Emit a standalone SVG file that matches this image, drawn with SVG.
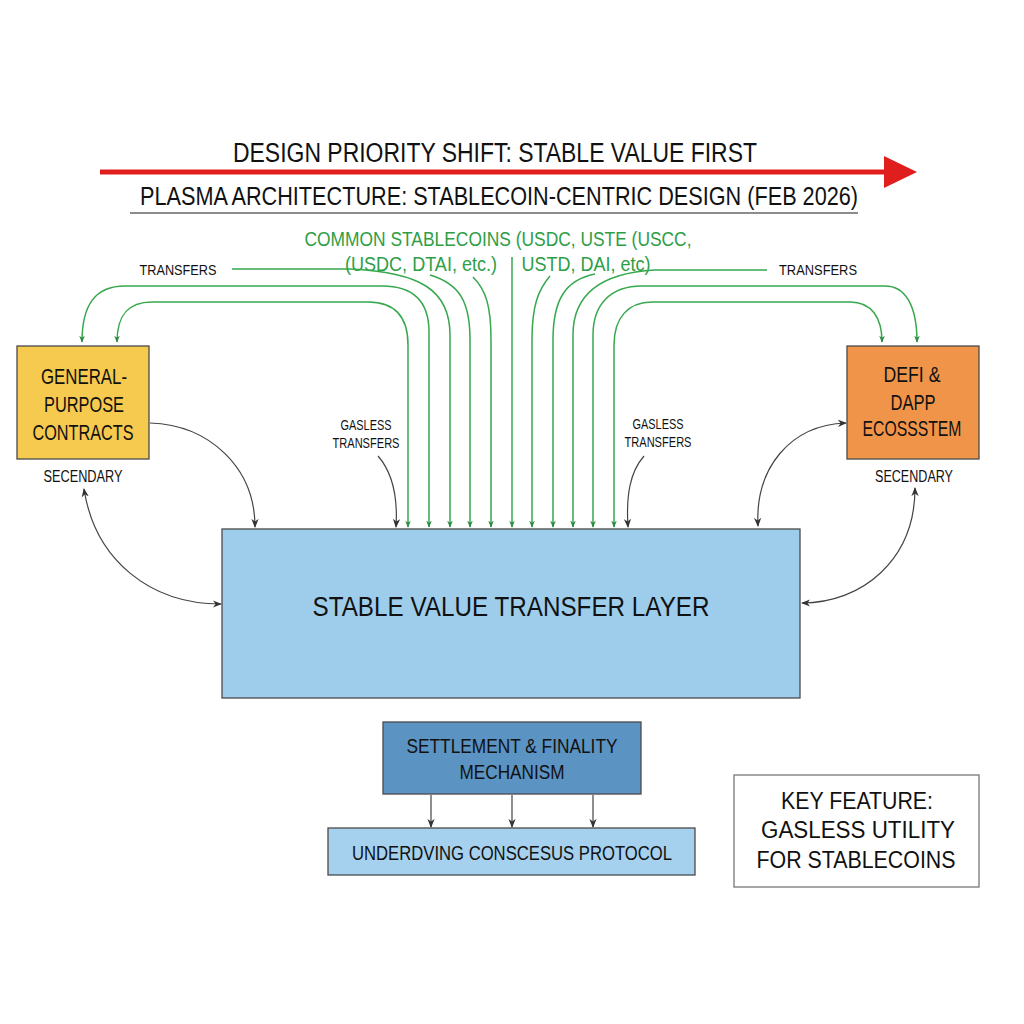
<svg xmlns="http://www.w3.org/2000/svg" width="1024" height="1024" viewBox="0 0 1024 1024">
<style>
text{font-family:"Liberation Sans","DejaVu Sans",sans-serif;fill:#111;text-anchor:middle}
.g{fill:#2E9E46}
.node{stroke:#4a4a4a;stroke-width:1.3}
.gl{fill:none;stroke:#36A84E;stroke-width:1.5}
.bl{fill:none;stroke:#444;stroke-width:1.2}
</style>
<defs>
<marker id="ag" viewBox="0 0 10 10" refX="9" refY="5" markerWidth="7" markerHeight="7" markerUnits="userSpaceOnUse" orient="auto-start-reverse"><path d="M0,1 L10,5 L0,9 L3,5 Z" fill="#2A8A40"/></marker>
<marker id="ab" viewBox="0 0 10 10" refX="9" refY="5" markerWidth="9" markerHeight="9" markerUnits="userSpaceOnUse" orient="auto-start-reverse"><path d="M0,1 L10,5 L0,9 L3,5 Z" fill="#333"/></marker>
</defs>
<rect width="1024" height="1024" fill="#fff"/>

<g id="header">
<line x1="100" y1="172" x2="888" y2="172" stroke="#E01E1E" stroke-width="5"/>
<polygon points="884,156 917,172 884,188" fill="#E01E1E"/>
<text x="495" y="162" font-size="27" textLength="524" lengthAdjust="spacingAndGlyphs">DESIGN PRIORITY SHIFT: STABLE VALUE FIRST</text>
<text x="499" y="205" font-size="26" textLength="718" lengthAdjust="spacingAndGlyphs">PLASMA ARCHITECTURE: STABLECOIN-CENTRIC DESIGN (FEB 2026)</text>
<line x1="130" y1="213" x2="858" y2="213" stroke="#666" stroke-width="1.5"/>
</g>

<g id="stablecoins-label">
<text class="g" x="498" y="246" font-size="21" textLength="387" lengthAdjust="spacingAndGlyphs">COMMON STABLECOINS (USDC, USTE (USCC,</text>
<text class="g" x="421" y="271" font-size="21" textLength="152" lengthAdjust="spacingAndGlyphs">(USDC, DTAI, etc.)</text>
<text class="g" x="586" y="271" font-size="21" textLength="129" lengthAdjust="spacingAndGlyphs">USTD, DAI, etc)</text>
<text x="178" y="275" font-size="14" textLength="77" lengthAdjust="spacingAndGlyphs">TRANSFERS</text>
<text x="818" y="275" font-size="14" textLength="78" lengthAdjust="spacingAndGlyphs">TRANSFERS</text>
</g>

<g id="connectors">
<path class="gl" marker-start="url(#ag)" marker-end="url(#ag)" d="M82,342 C82,305 95,286 125,286 H382 C414,286 429,302 429,332 V527"/>
<path class="gl" marker-start="url(#ag)" marker-end="url(#ag)" d="M117,342 C117,315 128,302 152,302 H368 C396,302 408,318 408,345 V527"/>
<path class="gl" marker-end="url(#ag)" d="M232,269 H350 C420,272 450,290 450,335 V527"/>
<path class="gl" marker-end="url(#ag)" d="M430,275 C460,284 470,302 470,340 V527"/>
<path class="gl" marker-end="url(#ag)" d="M473,277 C486,290 491,306 491,340 V527"/>
<path class="gl" marker-end="url(#ag)" d="M512,257 V527"/>
<path class="gl" marker-end="url(#ag)" d="M550,276 C538,290 532,306 532,340 V527"/>
<path class="gl" marker-end="url(#ag)" d="M595,274 C565,280 553,300 553,340 V527"/>
<path class="gl" marker-end="url(#ag)" d="M767,270 H655 C600,273 573,295 573,335 V527"/>
<path class="gl" marker-start="url(#ag)" marker-end="url(#ag)" d="M917,342 C917,305 905,286 885,286 H642 C610,286 593,305 593,335 V527"/>
<path class="gl" marker-start="url(#ag)" marker-end="url(#ag)" d="M882,342 C882,318 872,302 850,302 H652 C628,302 614,318 614,345 V527"/>

<path class="bl" marker-end="url(#ab)" d="M150,423 C210,425 255,468 255,527"/>
<path class="bl" marker-start="url(#ab)" marker-end="url(#ab)" d="M84,489 C95,560 150,604 221,604"/>
<path class="bl" marker-start="url(#ab)" marker-end="url(#ab)" d="M758,526 C755,468 790,425 846,423"/>
<path class="bl" marker-start="url(#ab)" marker-end="url(#ab)" d="M915,488 C915,560 862,603 802,603"/>
<path class="bl" marker-end="url(#ab)" d="M378,456 C392,472 398,495 396,527"/>
<path class="bl" marker-end="url(#ab)" d="M644,456 C630,472 626,495 628,527"/>

<path class="bl" marker-end="url(#ab)" d="M431,795 V827"/>
<path class="bl" marker-end="url(#ab)" d="M512,795 V827"/>
<path class="bl" marker-end="url(#ab)" d="M593,795 V827"/>
</g>

<g id="gasless-left">
<text x="366" y="430" font-size="15" textLength="51" lengthAdjust="spacingAndGlyphs">GASLESS</text>
<text x="366" y="448" font-size="15" textLength="67" lengthAdjust="spacingAndGlyphs">TRANSFERS</text>
</g>
<g id="gasless-right">
<text x="658" y="429" font-size="15" textLength="51" lengthAdjust="spacingAndGlyphs">GASLESS</text>
<text x="658" y="447" font-size="15" textLength="67" lengthAdjust="spacingAndGlyphs">TRANSFERS</text>
</g>

<g id="general-purpose">
<rect class="node" x="17" y="346" width="132" height="113" fill="#F6C94F"/>
<text x="84" y="384" font-size="22" textLength="86" lengthAdjust="spacingAndGlyphs">GENERAL-</text>
<text x="84" y="412" font-size="22" textLength="80" lengthAdjust="spacingAndGlyphs">PURPOSE</text>
<text x="83" y="440" font-size="22" textLength="101" lengthAdjust="spacingAndGlyphs">CONTRACTS</text>
<text x="83" y="482" font-size="16" textLength="79" lengthAdjust="spacingAndGlyphs">SECENDARY</text>
</g>

<g id="defi">
<rect class="node" x="847" y="346" width="132" height="113" fill="#F0944A"/>
<text x="912" y="382" font-size="22" textLength="57" lengthAdjust="spacingAndGlyphs">DEFI &amp;</text>
<text x="913" y="410" font-size="22" textLength="45" lengthAdjust="spacingAndGlyphs">DAPP</text>
<text x="912" y="436" font-size="22" textLength="99" lengthAdjust="spacingAndGlyphs">ECOSSSTEM</text>
<text x="914" y="482" font-size="16" textLength="78" lengthAdjust="spacingAndGlyphs">SECENDARY</text>
</g>

<g id="transfer-layer">
<rect class="node" x="222" y="529" width="578" height="169" fill="#9ECDEB"/>
<text x="511" y="616" font-size="27" textLength="397" lengthAdjust="spacingAndGlyphs">STABLE VALUE TRANSFER LAYER</text>
</g>

<g id="settlement">
<rect class="node" x="383" y="722" width="258" height="72" fill="#5B93C2"/>
<text x="512" y="753" font-size="20" textLength="211" lengthAdjust="spacingAndGlyphs">SETTLEMENT &amp; FINALITY</text>
<text x="512" y="779" font-size="20" textLength="105" lengthAdjust="spacingAndGlyphs">MECHANISM</text>
</g>

<g id="consensus">
<rect class="node" x="328" y="828" width="367" height="47" fill="#A5D0EE"/>
<text x="512" y="860" font-size="20" textLength="320" lengthAdjust="spacingAndGlyphs">UNDERDVING CONSCESUS PROTOCOL</text>
</g>

<g id="key-feature">
<rect x="734" y="775" width="245" height="112" fill="#fff" stroke="#777" stroke-width="1.3"/>
<text x="857" y="809" font-size="23" textLength="152" lengthAdjust="spacingAndGlyphs">KEY FEATURE:</text>
<text x="858" y="838" font-size="23" textLength="194" lengthAdjust="spacingAndGlyphs">GASLESS UTILITY</text>
<text x="856" y="868" font-size="23" textLength="199" lengthAdjust="spacingAndGlyphs">FOR STABLECOINS</text>
</g>
</svg>
